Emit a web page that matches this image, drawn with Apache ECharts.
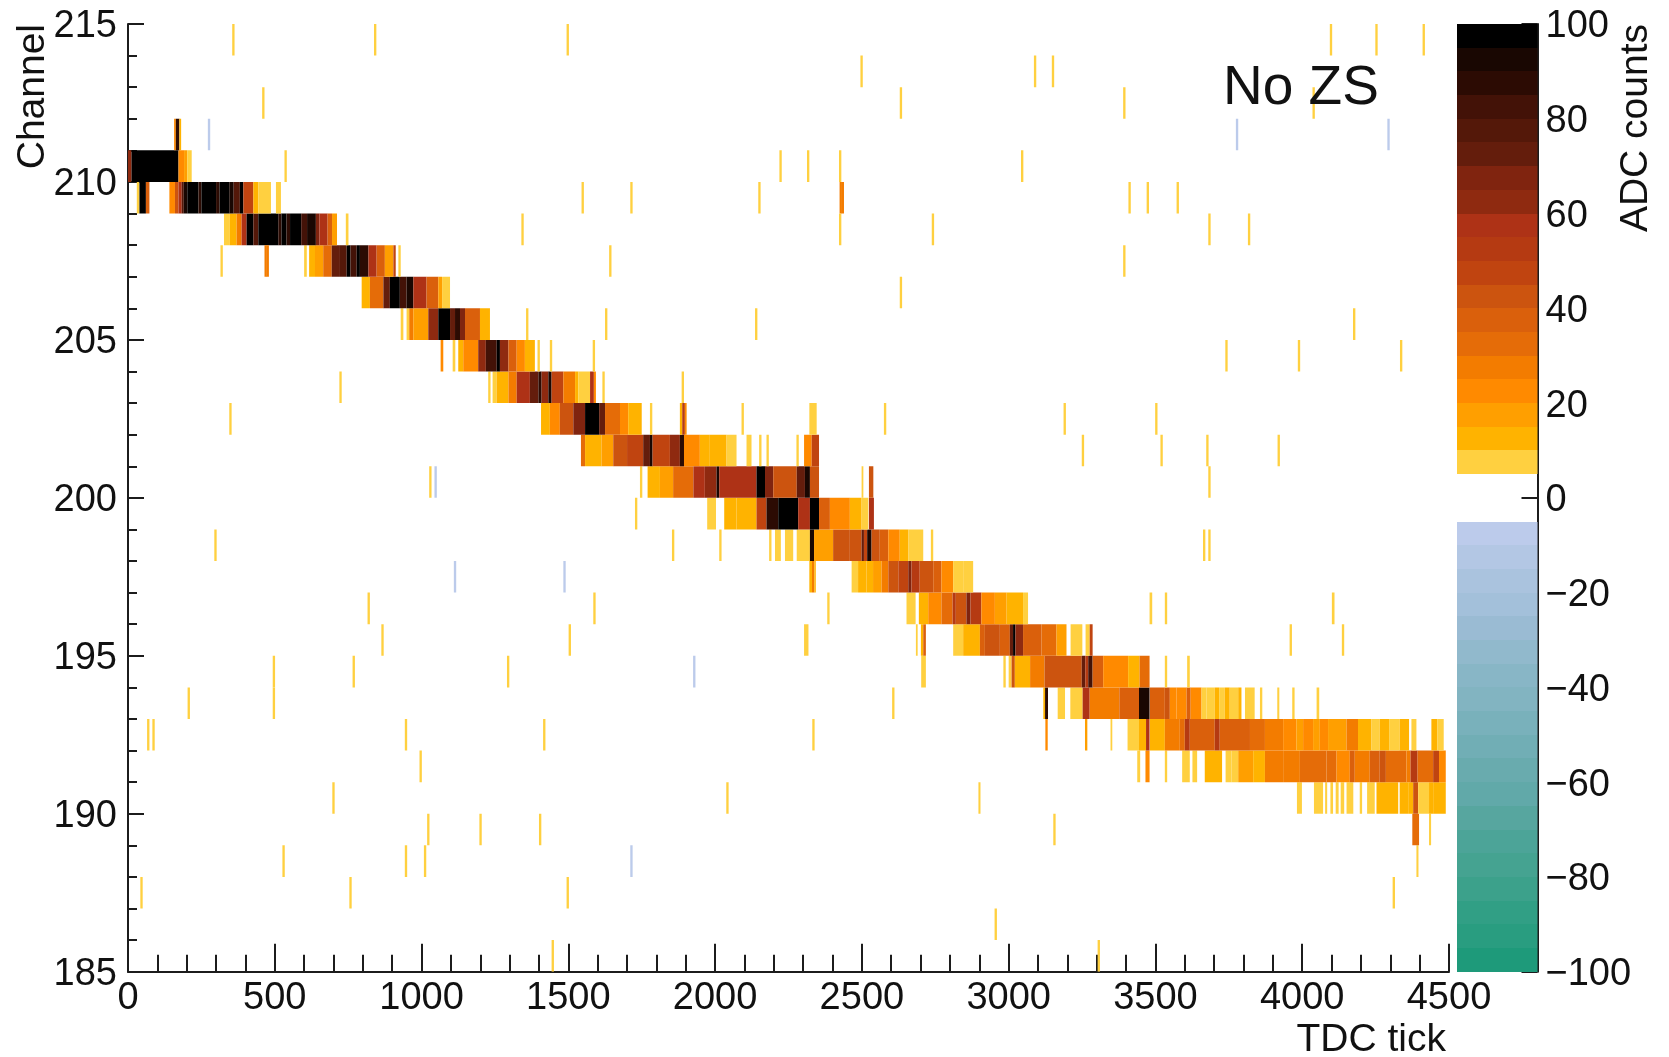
<!DOCTYPE html>
<html>
<head>
<meta charset="utf-8">
<title>No ZS</title>
<script src="https://cdn.jsdelivr.net/npm/echarts@6/dist/echarts.min.js"></script>
<style>
html,body{margin:0;padding:0;background:#fff}
#chart{width:1669px;height:1057px}
#chart canvas{filter:blur(0.6px)}
</style>
</head>
<body>
<div id="chart"></div>
<script>
// ADC colour bands, 5 counts wide, from the colour bar
const positiveBands = ['#ffd040','#ffb300','#ff9f00','#ff8a00','#f37c00','#e56c08','#da600c','#cc540f','#c04410','#b53a12','#ae3216','#8f2a10','#80240f','#641d0c','#541809','#431207','#2c0b03','#190702','#000000'];
const negativeBands = ['#bccbeb','#b3c7e4','#aac3de','#a3c0da','#9abbd3','#91b9cc','#88b6c6','#82b4c1','#79b1bb','#71aeb5','#69abae','#61a9a9','#57a69f','#4ca498','#45a391','#3ca18b','#319f85','#299d80','#1e9a7a'];

// Runs along each channel: [start tick, end tick, ADC]
const row211 = [[157,163,20],[163,175,85],[175,181,12]];
const row210 = [[0,12,60],[12,172,100],[172,191,22],[191,202,16],[202,217,8]];
const row209 = [[30,39,9],[39,61,96],[61,73,35],[141,160,20],[160,172,40],[172,183,58],[183,190,75],[190,202,90],[202,240,97],[240,250,85],[250,300,97],[300,312,88],[312,345,96],[345,360,90],[360,381,78],[381,393,100],[393,427,45],[427,444,14],[444,487,7],[504,521,8]];
const row208 = [[327,347,7],[347,370,14],[370,387,25],[387,404,58],[404,427,97],[427,444,78],[444,512,100],[512,523,85],[523,540,97],[540,552,85],[552,590,96],[590,610,82],[610,640,92],[640,652,65],[652,680,55],[680,695,36],[695,712,18],[742,751,8]];
const row207 = [[600,609,8],[617,637,14],[637,665,18],[665,694,33],[694,722,70],[722,745,78],[745,758,98],[758,779,82],[779,790,97],[790,819,86],[819,847,56],[847,875,36],[875,904,18],[904,912,45],[921,929,8]];
const row206 = [[796,824,14],[824,870,31],[870,892,72],[892,926,98],[926,949,84],[949,972,90],[972,1017,56],[1017,1057,36],[1057,1070,18],[1070,1097,7]];
const row205 = [[929,938,8],[949,958,9],[958,972,26],[972,1023,19],[1023,1057,60],[1057,1097,99],[1097,1114,72],[1114,1131,86],[1131,1148,66],[1148,1199,36],[1199,1233,13]];
const row204 = [[1065,1074,22],[1106,1115,8],[1125,1142,10],[1142,1193,20],[1193,1219,60],[1219,1256,84],[1256,1267,100],[1267,1296,62],[1296,1324,38],[1324,1352,21],[1352,1386,13],[1395,1403,8],[1437,1445,8],[1583,1591,8]];
const row203 = [[1227,1235,8],[1242,1256,8],[1256,1296,14],[1296,1324,26],[1324,1369,56],[1369,1398,72],[1398,1409,86],[1409,1432,62],[1432,1443,90],[1443,1483,46],[1483,1523,28],[1523,1534,12],[1534,1574,7],[1574,1587,58],[1587,1594,20],[1616,1624,8],[1886,1894,8]];
const row202 = [[1407,1437,14],[1437,1471,20],[1471,1517,40],[1517,1557,66],[1557,1605,100],[1605,1625,72],[1625,1676,31],[1676,1704,22],[1704,1750,13],[1778,1786,8],[1880,1888,14],[1888,1897,52],[1897,1903,20],[2090,2098,8],[2321,2346,8],[2575,2583,8]];
const row201 = [[1543,1557,30],[1557,1613,13],[1613,1653,16],[1653,1700,42],[1700,1755,48],[1755,1778,72],[1778,1787,92],[1787,1846,48],[1846,1880,62],[1880,1894,86],[1894,1948,21],[1948,1982,14],[1982,2039,11],[2039,2073,7],[2107,2124,8],[2150,2158,8],[2175,2183,8],[2277,2285,8],[2303,2329,22],[2329,2354,46]];
const row200 = [[1744,1752,8],[1770,1812,11],[1812,1857,18],[1857,1926,33],[1926,1965,56],[1965,2005,60],[2005,2014,92],[2014,2141,56],[2141,2170,100],[2170,2198,68],[2198,2278,44],[2278,2306,72],[2306,2323,90],[2323,2354,40],[2499,2505,8],[2524,2539,42]];
const row199 = [[1727,1735,8],[1973,2003,8],[2031,2073,12],[2073,2141,14],[2141,2175,46],[2175,2215,86],[2215,2283,100],[2283,2323,56],[2323,2354,98],[2354,2391,38],[2391,2459,20],[2459,2499,11],[2499,2522,8],[2524,2541,55]];
const row198 = [[1853,1861,8],[2014,2022,8],[2184,2192,8],[2204,2224,9],[2238,2266,9],[2278,2323,7],[2323,2337,90],[2337,2402,16],[2402,2459,43],[2459,2499,42],[2499,2507,72],[2507,2518,45],[2518,2533,92],[2533,2561,44],[2561,2590,38],[2590,2629,20],[2629,2658,13],[2658,2709,7],[2735,2743,9]];
const row197 = [[2321,2330,12],[2330,2338,25],[2338,2343,12],[2465,2487,7],[2487,2516,12],[2516,2538,13],[2538,2567,18],[2567,2590,28],[2590,2624,40],[2624,2658,46],[2658,2669,68],[2669,2697,52],[2697,2743,44],[2743,2771,35],[2771,2811,22],[2811,2845,9],[2845,2879,8]];
const row196 = [[2382,2390,8],[2652,2683,9],[2694,2726,13],[2726,2771,20],[2771,2809,32],[2809,2820,50],[2820,2856,44],[2856,2870,65],[2870,2907,50],[2907,2953,21],[2953,2993,18],[2993,3049,12],[3049,3066,8],[3480,3489,8],[3532,3540,8],[4101,4110,8]];
const row195 = [[2303,2318,9],[2684,2690,8],[2701,2709,12],[2709,2718,38],[2811,2845,7],[2845,2902,12],[2902,2919,35],[2919,2970,44],[2970,3004,38],[3004,3015,70],[3015,3023,98],[3023,3049,62],[3049,3112,38],[3112,3163,33],[3163,3197,16],[3211,3251,9],[3262,3276,8],[3276,3286,45],[3957,3965,8],[4135,4143,8]];
const row194 = [[2702,2718,9],[2982,2990,9],[3000,3010,9],[3010,3021,42],[3021,3073,14],[3073,3122,26],[3122,3249,41],[3249,3261,72],[3261,3271,50],[3271,3286,82],[3286,3322,36],[3322,3407,22],[3407,3446,13],[3446,3480,32],[3532,3540,8],[3608,3617,8]];
const row193 = [[3118,3124,12],[3124,3134,88],[3167,3192,8],[3210,3252,8],[3252,3276,56],[3276,3377,26],[3377,3444,38],[3444,3480,92],[3481,3532,36],[3532,3549,42],[3549,3572,24],[3572,3606,22],[3606,3620,38],[3620,3657,20],[3657,3674,8],[3674,3702,7],[3702,3717,12],[3717,3736,7],[3736,3753,13],[3753,3782,8],[3782,3793,11],[3805,3838,8],[3856,3864,8],[3915,3922,8],[3966,3974,8],[4049,4058,8]];
const row192 = [[3125,3133,22],[3260,3268,17],[3347,3353,8],[3405,3444,7],[3444,3468,10],[3468,3480,56],[3481,3532,14],[3532,3583,25],[3583,3600,32],[3600,3617,52],[3617,3702,38],[3702,3719,50],[3719,3822,36],[3822,3873,33],[3873,3935,27],[3935,3980,22],[3980,4003,15],[4003,4037,24],[4037,4060,18],[4060,4088,23],[4088,4151,17],[4151,4190,25],[4190,4236,13],[4236,4264,8],[4264,4296,13],[4296,4332,7],[4332,4364,10],[4372,4389,8],[4440,4460,11],[4460,4482,7]];
const row191 = [[3438,3448,8],[3466,3480,22],[3532,3540,8],[3591,3617,7],[3626,3642,8],[3668,3727,12],[3739,3759,8],[3759,3782,6],[3782,3833,15],[3833,3873,12],[3873,3935,28],[3935,3992,25],[3992,4083,30],[4083,4117,33],[4117,4162,24],[4162,4179,36],[4179,4230,26],[4230,4264,36],[4264,4285,42],[4285,4355,30],[4355,4369,28],[4369,4393,52],[4393,4446,30],[4446,4466,46],[4466,4489,22]];
const row190 = [[2897,2904,8],[3982,3999,8],[4040,4071,9],[4078,4085,8],[4096,4105,8],[4114,4124,8],[4131,4143,8],[4151,4174,8],[4196,4204,8],[4221,4247,9],[4253,4327,10],[4332,4361,11],[4361,4378,14],[4378,4395,40],[4395,4432,7],[4432,4446,11],[4446,4489,12]];
const row189 = [[3152,3160,8],[4375,4398,30],[4432,4439,8]];
const row188 = [[4389,4396,8]];

const tracks = {211:row211,210:row210,209:row209,208:row208,207:row207,206:row206,205:row205,204:row204,203:row203,202:row202,201:row201,200:row200,199:row199,198:row198,197:row197,196:row196,195:row195,194:row194,193:row193,192:row192,191:row191,190:row190,189:row189,188:row188};

// Single isolated hits: [channel, tick, ADC]
const isolatedHits = [
[214,355,8],[214,838,8],[214,1494,8],[214,4094,8],[214,4249,8],[214,4410,8],
[213,2495,8],[213,3086,8],[213,3147,8],
[212,457,8],[212,2629,8],[212,3390,8],[212,4035,8],
[211,272,-6],[211,3774,-6],[211,4290,-6],
[210,533,8],[210,2219,8],[210,2313,8],[210,2422,8],[210,3042,8],
[209,1545,8],[209,1711,8],[209,2147,8],[209,2424,25],[209,2431,28],[209,3408,8],[209,3470,8],[209,3572,8],
[208,1340,8],[208,2422,8],[208,2738,8],[208,3680,8],[208,3815,8],
[207,315,8],[207,465,28],[207,472,28],[207,1639,8],[207,3390,8],
[206,2629,8],
[205,1356,8],[205,1625,8],[205,2136,8],[205,4173,8],
[204,3738,8],[204,3985,8],[204,4333,8],
[203,720,8],
[202,345,8],[202,3187,8],[202,3499,8],
[201,3249,8],[201,3517,8],[201,3673,8],[201,3916,8],
[200,1026,8],[200,1044,-6],[200,3680,8],
[198,294,8],[198,3662,8],[198,3680,8],
[197,1110,-6],[197,1483,-6],
[196,816,8],[196,1585,8],
[195,863,8],[195,1501,8],
[194,493,8],[194,765,8],[194,1291,8],[194,1925,-6],
[193,203,8],[193,493,8],[193,2603,8],
[192,65,8],[192,83,8],[192,943,8],[192,1414,8],[192,2331,8],
[191,993,8],
[190,696,8],[190,2038,8],
[189,1019,8],[189,1197,8],[189,1400,8],
[188,526,8],[188,943,8],[188,1008,8],[188,1711,-6],
[187,42,8],[187,754,8],[187,1494,8],[187,4308,8],
[186,2952,8],
[185,1443,8],[185,3303,8]
];

const xAxisTitle = 'TDC tick';
const yAxisTitle = 'Channel';
const barTitle = 'ADC counts';
const annotation = 'No ZS';
const hitWidth = 8;

function bandColor(v){
  if (v >= 5) return positiveBands[Math.min(Math.floor((v-5)/5), positiveBands.length-1)];
  if (v <= -5) return negativeBands[Math.min(Math.floor((-v-5)/5), negativeBands.length-1)];
  return '#ffffff';
}

const cells = [];
Object.keys(tracks).forEach(ch => tracks[ch].forEach(r => cells.push([r[0], r[1], +ch, r[2]])));
isolatedHits.forEach(h => cells.push([h[1], h[1]+hitWidth, h[0], h[2]]));

const barBands = [];
positiveBands.forEach((c,i) => barBands.push([0, 1, 5+i*5, 10+i*5]));
negativeBands.forEach((c,i) => barBands.push([0, 1, -10-i*5, -5-i*5]));

const font = '"Liberation Sans", Arial, sans-serif';
const ink = '#1c1c1c';
const labelStyle = {fontFamily:font, fontSize:38, color:'#111'};

const chart = echarts.init(document.getElementById('chart'), null, {renderer:'canvas'});
chart.setOption({
  animation:false,
  backgroundColor:'#fff',
  grid:[
    {left:128, top:24, width:1321, height:947.7, outerBoundsMode:'none'},
    {left:1457, top:24, width:80.5, height:947.7, outerBoundsMode:'none'}
  ],
  xAxis:[
    {gridIndex:0, type:'value', min:0, max:4500, interval:500,
     axisLine:{show:true, onZero:false, lineStyle:{color:ink, width:2}},
     axisTick:{show:true, inside:true, length:28, lineStyle:{color:ink, width:2}},
     minorTick:{show:true, splitNumber:5, length:17, lineStyle:{color:ink, width:2}},
     axisLabel:{...labelStyle, margin:8, hideOverlap:false, formatter:v => String(v)},
     splitLine:{show:false},
     name:xAxisTitle, nameLocation:'end', nameGap:-3, nameMoveOverlap:false,
     nameTextStyle:{fontFamily:font, fontSize:39, color:'#111', align:'right', verticalAlign:'top', padding:[49,0,0,0]}},
    {gridIndex:1, type:'value', min:0, max:1, show:false}
  ],
  yAxis:[
    {gridIndex:0, type:'value', min:185, max:215, interval:5,
     axisLine:{show:true, onZero:false, lineStyle:{color:ink, width:2}},
     axisTick:{show:true, inside:true, length:16, lineStyle:{color:ink, width:2}},
     minorTick:{show:true, splitNumber:5, length:9, lineStyle:{color:ink, width:2}},
     axisLabel:{...labelStyle, margin:11, hideOverlap:false, verticalAlign:'top', padding:[-16,0,0,0]},
     splitLine:{show:false},
     name:yAxisTitle, nameLocation:'end', nameGap:0, nameRotate:90, nameMoveOverlap:false,
     nameTextStyle:{fontFamily:font, fontSize:39, color:'#111', align:'right', verticalAlign:'bottom', padding:[0,0,75,0]}},
    {gridIndex:1, type:'value', min:-100, max:100, interval:20, position:'right',
     axisLine:{show:true, onZero:false, lineStyle:{color:ink, width:2}},
     axisTick:{show:true, inside:true, length:16, lineStyle:{color:ink, width:2}},
     axisLabel:{...labelStyle, margin:8, hideOverlap:false, verticalAlign:'top', padding:[-16,0,0,0], formatter:v => v<0 ? '\u2212'+Math.abs(v) : String(v)},
     splitLine:{show:false},
     name:barTitle, nameLocation:'end', nameGap:0, nameRotate:90, nameMoveOverlap:false,
     nameTextStyle:{fontFamily:font, fontSize:39, color:'#111', align:'right', verticalAlign:'top', padding:[79,0,0,0]}}
  ],
  series:[
    {type:'custom', xAxisIndex:0, yAxisIndex:0, data:cells, clip:true, silent:true,
     encode:{x:[0,1], y:2},
     renderItem:(params, api) => {
       const a = api.coord([api.value(0), api.value(2)+1]);
       const b = api.coord([api.value(1), api.value(2)]);
       return {type:'rect', shape:{x:a[0], y:a[1], width:b[0]-a[0], height:b[1]-a[1]},
               style:{fill:bandColor(api.value(3))}};
     }},
    {type:'custom', xAxisIndex:1, yAxisIndex:1, data:barBands, silent:true,
     encode:{x:[0,1], y:[2,3]},
     renderItem:(params, api) => {
       const a = api.coord([api.value(0), api.value(3)]);
       const b = api.coord([api.value(1), api.value(2)]);
       const top = Math.round(a[1]), bottom = Math.round(b[1]);
       return {type:'rect', shape:{x:a[0], y:top, width:b[0]-a[0], height:bottom-top},
               style:{fill:bandColor((api.value(2)+api.value(3))/2)}};
     }}
  ],
  graphic:[{type:'text', left:1223, top:61, z:100, silent:true,
    style:{text:annotation, fontFamily:font, fontSize:55, fill:'#111'}}]
});
</script>
</body>
</html>
